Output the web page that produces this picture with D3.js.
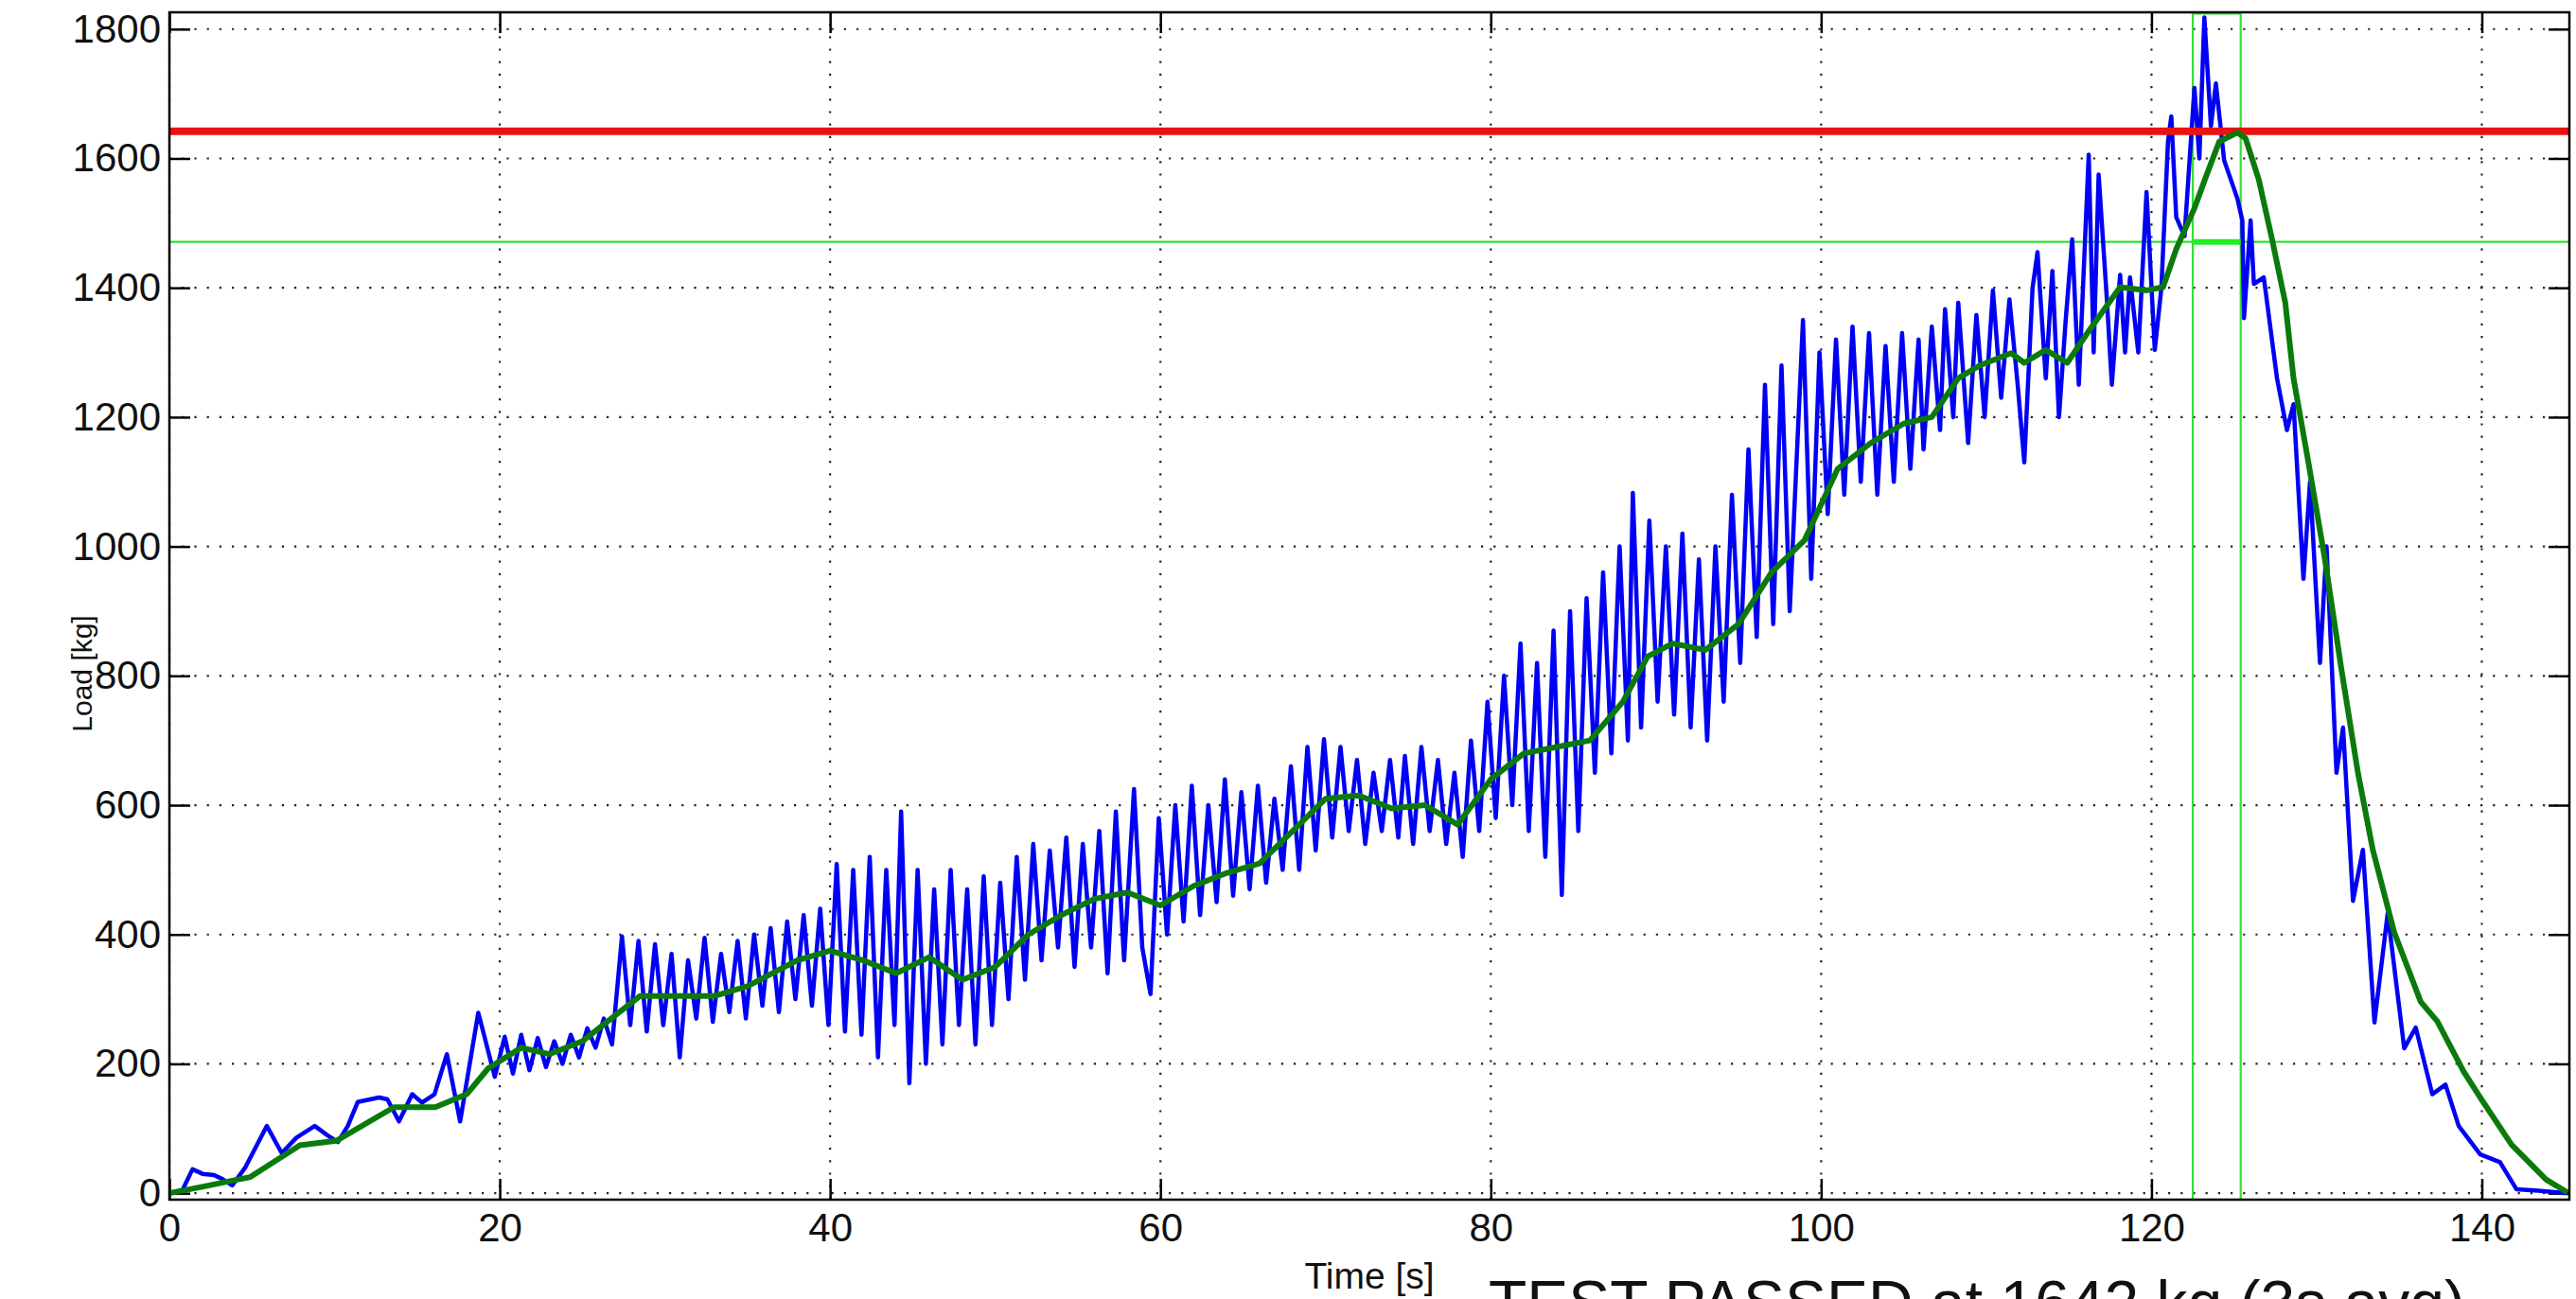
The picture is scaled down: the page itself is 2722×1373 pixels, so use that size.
<!DOCTYPE html>
<html>
<head>
<meta charset="utf-8">
<script src="https://d3js.org/d3.v7.min.js"></script>
<style>
  body { margin: 0; background: #fff; }
  svg { display: block; }
  text { font-family: "Liberation Sans", Arial, sans-serif; fill: #111; }
</style>
</head>
<body>
<svg id="chart" width="2722" height="1373"></svg>
<script>
// raw load signal (blue)
const rawTime = [0, 0.8, 1.0, 1.4, 2.0, 2.7, 3.2, 3.8, 4.6, 5.9, 6.8, 7.7, 8.8, 9.6, 10.2, 10.8, 11.4, 12.7, 13.2, 13.9, 14.7, 15.3, 16.05, 16.8, 17.6, 18.7,
  19.7, 20.3, 20.8, 21.3, 21.8, 22.3, 22.8, 23.3, 23.8, 24.3, 24.8, 25.3, 25.8, 26.3, 26.8, 27.4, 27.9, 28.4, 28.9, 29.4, 29.9,
  30.4, 30.9, 31.4, 31.9, 32.4, 32.9, 33.4, 33.9, 34.4, 34.9, 35.4, 35.9, 36.4, 36.9, 37.4, 37.9, 38.4, 38.9, 39.4, 39.9,
  40.4, 40.9, 41.4, 41.9, 42.4, 42.9, 43.4, 43.9, 44.3, 44.8, 45.3, 45.8, 46.3, 46.8, 47.3, 47.8, 48.3, 48.8, 49.3, 49.8,
  50.3, 50.8, 51.3, 51.8, 52.3, 52.8, 53.3, 53.8, 54.3, 54.8, 55.3, 55.8, 56.3, 56.8, 57.3, 57.8, 58.4, 58.9, 59.4, 59.9,
  60.4, 60.9, 61.4, 61.9, 62.4, 62.9, 63.4, 63.9, 64.4, 64.9, 65.4, 65.9, 66.4, 66.9, 67.4, 67.9, 68.4, 68.9, 69.4, 69.9,
  70.4, 70.9, 71.4, 71.9, 72.4, 72.9, 73.4, 73.9, 74.4, 74.8, 75.3, 75.8, 76.3, 76.8, 77.3, 77.8, 78.3, 78.8, 79.3, 79.8,
  80.3, 80.8, 81.3, 81.8, 82.3, 82.8, 83.3, 83.8, 84.3, 84.8, 85.3, 85.8, 86.3, 86.8, 87.3, 87.8, 88.3, 88.6, 89.1, 89.6,
  90.1, 90.6, 91.1, 91.6, 92.1, 92.6, 93.1, 93.6, 94.1, 94.6, 95.1, 95.6, 96.1, 96.6, 97.1, 97.6, 98.1, 98.9, 99.4, 99.9,
  100.4, 100.9, 101.4, 101.9, 102.4, 102.9, 103.4, 103.9, 104.4, 104.9, 105.4, 105.9, 106.2, 106.7, 107.2, 107.5, 108.0, 108.3, 108.9, 109.4, 109.9,
  110.4, 110.9, 111.4, 111.9, 112.3, 112.8, 113.1, 113.6, 114.0, 114.4, 114.8, 115.2, 115.6, 116.2, 116.5, 116.8, 117.3, 117.6, 118.1, 118.4, 118.7, 119.2, 119.7,
  120.2, 120.6, 121.0, 121.2, 121.5, 122.0, 122.6, 122.9, 123.2, 123.6, 123.9, 124.4, 125.2, 125.5, 125.6, 126.0, 126.2, 126.8, 127.6, 128.2, 128.6, 129.2, 129.6,
  130.2, 130.6, 131.2, 131.6, 132.2, 132.8, 133.5, 134.3, 135.3, 136.0, 137.0, 137.8, 138.6, 139.9, 141.1, 142.1, 143.4, 145.2];
const rawLoad = [0, 5, 16, 37, 30, 28, 22, 12, 40, 104, 62, 86, 104, 89, 79, 104, 141, 148, 145, 111, 153, 140, 153, 215, 111, 279,
  180, 242, 185, 245, 190, 240, 195, 235, 200, 245, 210, 255, 225, 270, 230, 397, 260, 390, 250, 385, 260,
  370, 210, 360, 270, 395, 265, 370, 280, 390, 270, 400, 290, 410, 280, 420, 300, 430, 290, 440, 260,
  509, 250, 500, 245, 520, 210, 500, 260, 590, 170, 500, 200, 470, 230, 500, 260, 470, 230, 490, 260,
  480, 300, 520, 330, 540, 360, 530, 380, 550, 350, 540, 380, 560, 340, 590, 360, 625, 380, 308, 580,
  400, 600, 420, 630, 430, 600, 450, 640, 460, 620, 470, 630, 480, 610, 500, 660, 500, 690, 530, 702,
  550, 690, 560, 670, 540, 650, 560, 670, 550, 676, 540, 690, 560, 670, 540, 650, 520, 700, 560, 760,
  580, 800, 600, 850, 560, 820, 520, 870, 461, 900, 560, 920, 650, 960, 680, 1000, 700, 1083, 720, 1040,
  760, 1000, 740, 1020, 720, 980, 700, 1000, 760, 1080, 820, 1150, 860, 1250, 880, 1280, 900, 1350, 950, 1300,
  1050, 1320, 1080, 1340, 1100, 1330, 1080, 1310, 1100, 1330, 1120, 1320, 1150, 1340, 1180, 1367, 1200, 1377, 1160, 1358, 1200,
  1396, 1230, 1382, 1250, 1130, 1400, 1455, 1260, 1426, 1200, 1348, 1475, 1250, 1606, 1300, 1575, 1382, 1250, 1420, 1300, 1416, 1300, 1548,
  1304, 1400, 1626, 1665, 1509, 1480, 1709, 1600, 1818, 1650, 1716, 1597, 1538, 1504, 1353, 1504, 1406, 1416, 1260, 1180, 1220, 950, 1100,
  820, 1000, 650, 720, 452, 531, 264, 433, 224, 256, 153, 168, 104, 60, 48, 6, 4, 0];

// 3 s running average (dark green)
const avgTime = [0, 2, 4.9, 7.9, 10.1, 13.6, 16.1, 18.0, 19.3, 21.3, 23, 25, 27, 28.5, 30, 33, 35, 38, 40, 42, 44, 46, 48, 50, 52, 54, 56, 58, 60, 62, 64, 66, 68, 70, 72, 74, 76, 78, 80, 82, 84, 86, 88, 89.5, 91, 93, 95, 97, 99, 101, 103, 105, 106.7, 108.3, 109.6, 111.5, 112.3, 113.6, 114.9, 116.2, 118.1, 119.7, 120.7, 121.5, 122.6, 123.3, 124.1, 125.2, 125.7, 126.5, 127.3, 128.1, 128.6, 129.5, 130.5, 131.5, 132.5, 133.4, 134.7, 136.3, 137.3, 138.9, 140, 141.8, 143.9, 145.2];
const avgLoad = [0, 10, 25, 74, 81, 133, 133, 153, 193, 225, 215, 235, 275, 305, 305, 305, 320, 360, 375, 360, 340, 365, 330, 350, 400, 430, 455, 465, 445, 475, 495, 510, 560, 610, 615, 595, 600, 570, 640, 680, 690, 700, 760, 830, 850, 840, 880, 960, 1010, 1120, 1160, 1190, 1200, 1260, 1280, 1299, 1284, 1304, 1284, 1333, 1401, 1396, 1401, 1460, 1523, 1572, 1626, 1640, 1631, 1567, 1475, 1377, 1260, 1130, 980, 810, 650, 531, 403, 296, 266, 188, 144, 75, 21, 1];

const xTicks = [0, 20, 40, 60, 80, 100, 120, 140];
const yTicks = [0, 200, 400, 600, 800, 1000, 1200, 1400, 1600, 1800];

const passLoad = 1642;      // red line
const thresholdLoad = 1471; // thin green line
const windowStart = 122.5;  // 3 s window
const windowEnd = 125.4;

const svg = d3.select("#chart");
const box = { left: 179, right: 2715, top: 13, bottom: 1268 };

const x = d3.scaleLinear().domain([0, 145.3]).range([box.left, box.right]);
const y = d3.scaleLinear().domain([-10, 1826]).range([box.bottom, box.top]);

// dotted grid
const grid = svg.append("g")
    .attr("stroke", "#222")
    .attr("stroke-width", 2.2)
    .attr("stroke-dasharray", "2.2,11");
grid.selectAll(".gy").data(yTicks).enter().append("line")
    .attr("x1", box.left).attr("x2", box.right)
    .attr("y1", d => y(d)).attr("y2", d => y(d));
grid.selectAll(".gx").data(xTicks).enter().append("line")
    .attr("y1", box.bottom).attr("y2", box.top)
    .attr("x1", d => x(d)).attr("x2", d => x(d));

// axes with inward ticks
const tickLen = 22;
const styleAxis = g => {
    g.selectAll(".domain").remove();
    g.selectAll(".tick line").attr("stroke", "#000").attr("stroke-width", 2.5);
    g.selectAll(".tick text")
        .style("font-family", "'Liberation Sans', Arial, sans-serif")
        .style("font-size", "42px")
        .attr("fill", "#111");
};

svg.append("g")
    .attr("transform", `translate(${box.left},0)`)
    .call(d3.axisLeft(y).tickValues(yTicks).tickFormat(d3.format("d")).tickSizeInner(-tickLen).tickSizeOuter(0).tickPadding(9))
    .call(styleAxis);
svg.append("g")
    .attr("transform", `translate(${box.right},0)`)
    .call(d3.axisRight(y).tickValues(yTicks).tickSizeInner(-tickLen).tickSizeOuter(0).tickFormat(""))
    .call(styleAxis);
svg.append("g")
    .attr("transform", `translate(0,${box.bottom})`)
    .call(d3.axisBottom(x).tickValues(xTicks).tickFormat(d3.format("d")).tickSizeInner(-tickLen).tickSizeOuter(0).tickPadding(14))
    .call(styleAxis);
svg.append("g")
    .attr("transform", `translate(0,${box.top})`)
    .call(d3.axisTop(x).tickValues(xTicks).tickSizeInner(-tickLen).tickSizeOuter(0).tickFormat(""))
    .call(styleAxis);

// threshold line and the 3 s window
svg.append("line")
    .attr("x1", box.left).attr("x2", box.right)
    .attr("y1", y(thresholdLoad)).attr("y2", y(thresholdLoad))
    .attr("stroke", "#33e033").attr("stroke-width", 2.2);
svg.append("rect")
    .attr("x", x(windowStart)).attr("y", y(1824))
    .attr("width", x(windowEnd) - x(windowStart))
    .attr("height", y(-10) - y(1824))
    .attr("fill", "none").attr("stroke", "#33e033").attr("stroke-width", 2.2);

// raw signal
const line = d3.line().x(d => x(d[0])).y(d => y(d[1]));
svg.append("path")
    .datum(d3.zip(rawTime, rawLoad))
    .attr("d", line)
    .attr("fill", "none")
    .attr("stroke", "#0000f4")
    .attr("stroke-width", 4.5)
    .attr("stroke-linejoin", "round");

// pass level
svg.append("line")
    .attr("x1", box.left).attr("x2", box.right)
    .attr("y1", y(passLoad)).attr("y2", y(passLoad))
    .attr("stroke", "#ec1111").attr("stroke-width", 8);

svg.append("line")
    .attr("x1", x(windowStart)).attr("x2", x(windowEnd))
    .attr("y1", y(thresholdLoad)).attr("y2", y(thresholdLoad))
    .attr("stroke", "#22ee22").attr("stroke-width", 6);

// running average
svg.append("path")
    .datum(d3.zip(avgTime, avgLoad))
    .attr("d", line)
    .attr("fill", "none")
    .attr("stroke", "#0b7a0b")
    .attr("stroke-width", 6)
    .attr("stroke-linejoin", "round");

// axes box
svg.append("rect")
    .attr("x", box.left).attr("y", box.top)
    .attr("width", box.right - box.left).attr("height", box.bottom - box.top)
    .attr("fill", "none").attr("stroke", "#000").attr("stroke-width", 2.5);

// labels
svg.append("text")
    .attr("x", (box.left + box.right) / 2).attr("y", 1362)
    .attr("text-anchor", "middle")
    .style("font-size", "39px")
    .text("Time [s]");

svg.append("text")
    .attr("transform", "translate(97,712) rotate(-90)")
    .attr("text-anchor", "middle")
    .style("font-size", "30px")
    .text("Load [kg]");

svg.append("text")
    .attr("x", 1573).attr("y", 1400)
    .style("font-size", "66px")
    .text(`TEST PASSED at ${passLoad} kg (3s avg)`);
</script>
</body>
</html>
